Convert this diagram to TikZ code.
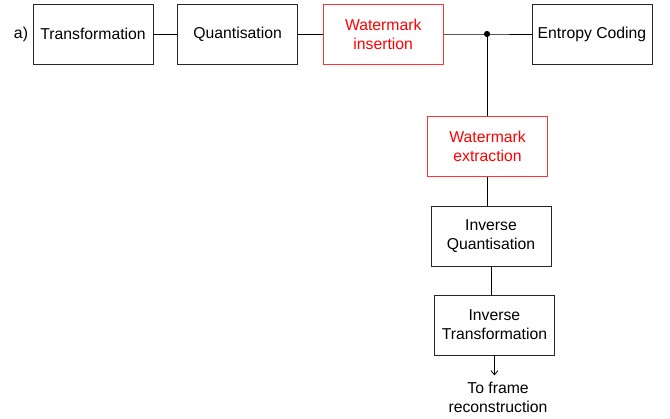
\documentclass[tikz,border=0pt]{standalone}
\usepackage{fontspec}
\setmainfont{Liberation Sans}
\usetikzlibrary{arrows.meta,positioning,calc}

\begin{document}
\begin{tikzpicture}[
    font=\fontsize{11.2}{13.4}\selectfont,
    blockbox/.style={draw=black!85, line width=0.6pt, minimum width=3cm,
      minimum height=1.5cm, align=center, inner sep=2pt},
    wmbox/.style={blockbox, draw=red!80, text=red},
    link/.style={line width=0.6pt, black}
  ]
  \useasboundingbox (0,0) rectangle (16.75,-10.45);

  % Encoder chain
  \node at (0.525,-0.85) {a)};
  \node[blockbox] (trans) at (2.325,-0.85) {Transformation};
  \node[blockbox] (quant) at (5.94,-0.85) {Quantisation};
  \node[wmbox] (wmins) at (9.58,-0.85) {Watermark\\insertion};
  \node[blockbox] (entropy) at (14.8,-0.85) {Entropy Coding};
  \coordinate (split) at (12.175,-0.85);

  \draw[link] (trans) -- (quant);
  \draw[link] (quant) -- (wmins);
  \draw[link] (wmins) -- (split) -- (entropy);
  \fill (split) circle (2.2pt);

  % Decoder branch
  \node[wmbox] (wmext) at (12.19,-3.66) {Watermark\\extraction};
  \node[blockbox] (invq) at (12.275,-5.9) {Inverse\\Quantisation};
  \node[blockbox] (invt) at (12.36,-8.125) {Inverse\\Transformation};
  \node[align=center] (frame) at (12.45,-9.925) {To frame\\reconstruction};

  \draw[link] (split) -- (split |- wmext.north);
  \draw[link] (wmext.south) -- (wmext.south |- invq.north);
  \draw[link] (invq.south) -- (invq.south |- invt.north);
  \coordinate (arrend) at ($(invt.south)+(0,-0.5)$);
  \draw[link, -{Straight Barb[length=3pt,width=5pt]}] (invt.south) -- (arrend);
\end{tikzpicture}
\end{document}
